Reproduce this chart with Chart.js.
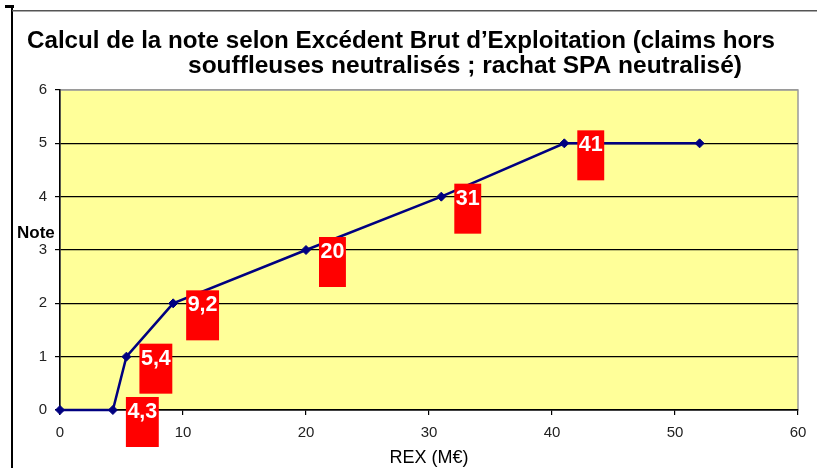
<!DOCTYPE html>
<html>
<head>
<meta charset="utf-8">
<script src="https://cdn.jsdelivr.net/npm/chart.js@4/dist/chart.umd.min.js"></script>
<style>
html,body{margin:0;padding:0;background:#fff}
#wrap{width:817px;height:468px}
</style>
</head>
<body>
<div id="wrap"><canvas id="chart" width="817" height="468"></canvas></div>
<script>
// data
const rexValues=[0,4.3,5.4,9.2,20,31,41,52];
const noteValues=[0,0,1,2,3,4,5,5];
const pointLabels=[null,'4,3','5,4','9,2','20','31','41',null];
const titleLines=['Calcul de la note selon Excédent Brut d\u2019Exploitation (claims hors','souffleuses neutralisés ; rachat SPA neutralisé)'];
const xAxisTitle='REX (M€)';
const yAxisTitle='Note';

const FONT='"Liberation Sans", Arial, sans-serif';

// draw a line of text stretched/squeezed to a given width
function fitText(ctx,txt,x,y,w){
  const m=ctx.measureText(txt).width;
  ctx.save();
  ctx.translate(x,y);
  ctx.scale(w/m,1);
  ctx.fillText(txt,0,0);
  ctx.restore();
}

const decor={
  id:'decor',
  beforeDraw(chart){
    const {ctx,chartArea:a}=chart;
    ctx.save();
    ctx.fillStyle='#fff';
    ctx.fillRect(0,0,chart.width,chart.height);
    // outer frame
    ctx.fillStyle='#000';
    ctx.fillRect(5,5,9,3);
    ctx.fillRect(11,5,2,463);
    ctx.fillStyle='#555';
    ctx.fillRect(12,10,805,1.5);
    // plot area
    ctx.fillStyle='#FFFF99';
    ctx.fillRect(a.left,a.top,a.right-a.left,a.bottom-a.top);
    ctx.strokeStyle='#9a9a9a';
    ctx.lineWidth=1.5;
    ctx.strokeRect(a.left,a.top,a.right-a.left,a.bottom-a.top);
    // title
    ctx.fillStyle='#000';
    ctx.textBaseline='alphabetic';
    ctx.font='bold 24px '+FONT;
    fitText(ctx,titleLines[0],27,48,748);
    fitText(ctx,titleLines[1],188,73,554);
    // axis titles
    ctx.font='bold 17px '+FONT;
    ctx.fillText(yAxisTitle,17,238);
    ctx.font='18px '+FONT;
    ctx.textAlign='center';
    ctx.fillText(xAxisTitle,(a.left+a.right)/2,463);
    ctx.restore();
  },
  afterDatasetsDraw(chart){
    const {ctx}=chart;
    const meta=chart.getDatasetMeta(0);
    ctx.save();
    ctx.font='bold 21.5px '+FONT;
    ctx.textBaseline='alphabetic';
    meta.data.forEach((pt,i)=>{
      const lbl=pointLabels[i];
      if(!lbl) return;
      const w=ctx.measureText(lbl).width+3;
      const x=pt.x+13, y=pt.y-13;
      ctx.fillStyle='#FF0000';
      ctx.fillRect(x,y,w,50);
      ctx.fillStyle='#fff';
      ctx.fillText(lbl,x+1.5,y+21);
    });
    ctx.restore();
  }
};

new Chart(document.getElementById('chart'),{
  type:'scatter',
  data:{
    datasets:[{
      data:rexValues.map((x,i)=>({x:x,y:noteValues[i]})),
      showLine:true,
      borderColor:'#000080',
      backgroundColor:'#000080',
      borderWidth:2.5,
      pointStyle:'rectRot',
      pointRadius:4.5,
      pointBorderWidth:1,
      tension:0,
      clip:false
    }]
  },
  options:{
    responsive:false,
    animation:false,
    layout:{padding:{left:0,top:90,right:19,bottom:0}},
    plugins:{legend:{display:false},tooltip:{enabled:false},title:{display:false}},
    scales:{
      x:{
        type:'linear',min:0,max:60,
        ticks:{stepSize:10,padding:9,color:'#222',font:{family:FONT,size:15}},
        grid:{drawOnChartArea:false,tickLength:5,tickColor:'#000',lineWidth:1.2},
        border:{color:'#000',width:1.5},
        afterFit(s){s.height=58;}
      },
      y:{
        min:0,max:6,
        ticks:{stepSize:1,padding:8,color:'#222',font:{family:FONT,size:15}},
        grid:{
          color:c=>c.tick&&c.tick.value===6?'#9a9a9a':'#000',
          lineWidth:1.2,tickLength:5,tickColor:'#000'
        },
        border:{color:'#000',width:1.5},
        afterFit(s){s.width=60;}
      }
    }
  },
  plugins:[decor]
});
</script>
</body>
</html>
